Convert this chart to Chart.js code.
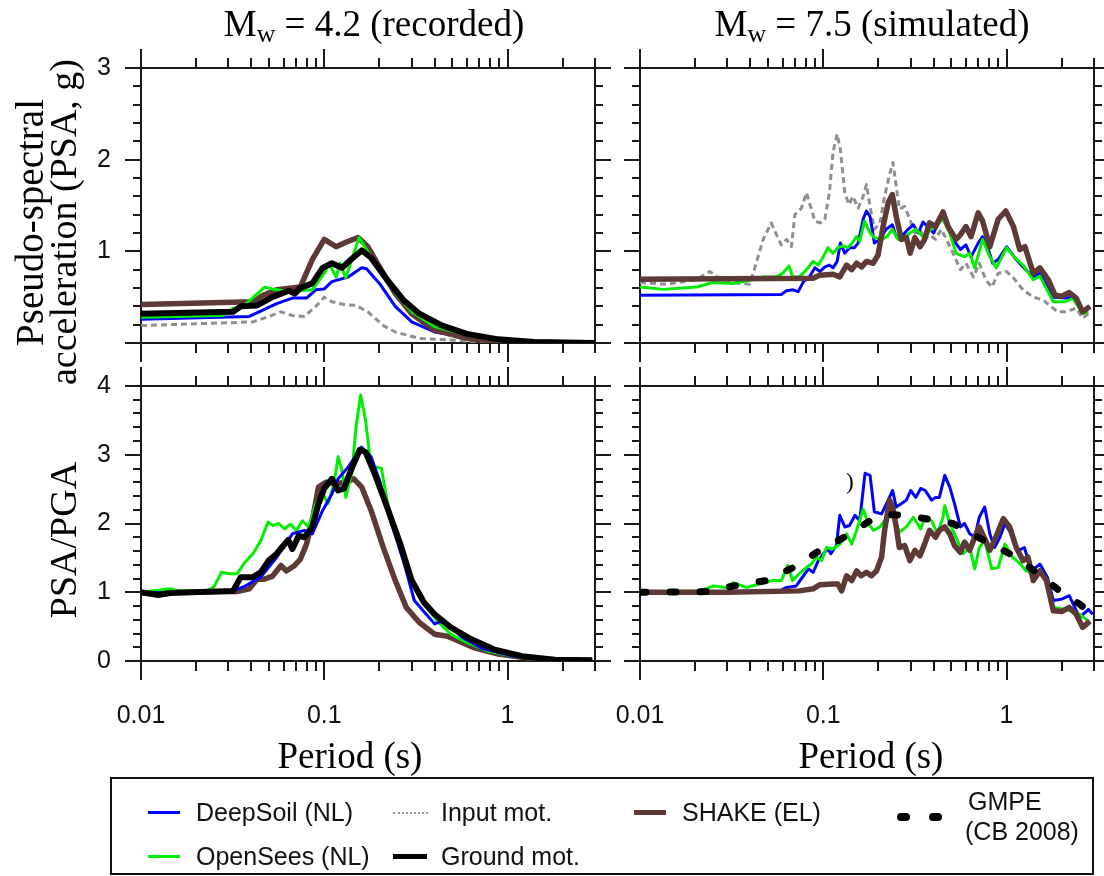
<!DOCTYPE html>
<html>
<head>
<meta charset="utf-8">
<script src="https://cdn.jsdelivr.net/npm/chart.js@4.4.0/dist/chart.umd.min.js"></script>
<style>
  body { margin: 0; background: #fff; }
  #fig { position: relative; width: 1104px; height: 876px; overflow: hidden; background: #fff; }
  #fig canvas { position: absolute; }
  .serif { position: absolute; font-family: 'Liberation Serif', 'Times New Roman', serif; color: #000; line-height: 1; white-space: nowrap; }
  .sans { position: absolute; font-family: 'Liberation Sans', Arial, sans-serif; font-size: 25px; line-height: 25px; white-space: nowrap; color: #111; }
  .sub { font-size: 0.7em; position: relative; top: 0.25em; }
  .rot { transform: rotate(-90deg); text-align: center; }
  .swatch { position: absolute; }
</style>
</head>
<body>
<div id="fig">
  <canvas id="tl" width="579" height="335" style="left:41px;top:38px"></canvas>
  <canvas id="tr" width="564" height="335" style="left:540px;top:38px"></canvas>
  <canvas id="bl" width="579" height="385" style="left:41px;top:356px"></canvas>
  <canvas id="br" width="564" height="385" style="left:540px;top:356px"></canvas>

  <div class="serif" style="left:124px;top:5px;width:500px;text-align:center;font-size:37px">M<span class="sub">w</span> = 4.2 (recorded)</div>
  <div class="serif" style="left:622px;top:5px;width:500px;text-align:center;font-size:37px">M<span class="sub">w</span> = 7.5 (simulated)</div>

  <div class="serif rot" style="left:-171px;top:203px;width:400px;font-size:39px">Pseudo-spectral</div>
  <div class="serif rot" style="left:-137px;top:203px;width:400px;font-size:38px">acceleration (PSA, g)</div>
  <div class="serif rot" style="left:-137px;top:521px;width:400px;font-size:38px">PSA/PGA</div>

  <div class="serif" style="left:100px;top:737px;width:500px;text-align:center;font-size:37px">Period (s)</div>
  <div class="serif" style="left:621px;top:737px;width:500px;text-align:center;font-size:37px">Period (s)</div>

  <div class="serif" style="left:846px;top:470px;font-size:23px">)</div>

  <!-- legend -->
  <div style="position:absolute;left:110px;top:777px;width:980px;height:94px;border:2px solid #111"></div>
  <div class="swatch" style="left:148px;top:811px;width:32px;height:3px;background:#0000ff"></div>
  <div class="sans" style="left:196px;top:800px">DeepSoil (NL)</div>
  <div class="swatch" style="left:393px;top:812px;width:35px;height:0;border-top:2px dotted #999"></div>
  <div class="sans" style="left:441px;top:800px">Input mot.</div>
  <div class="swatch" style="left:634px;top:810px;width:32px;height:5px;background:#5e3a36"></div>
  <div class="sans" style="left:682px;top:800px">SHAKE (EL)</div>
  <div class="swatch" style="left:897px;top:813px;width:13px;height:8px;border-radius:4px;background:#000"></div>
  <div class="swatch" style="left:929px;top:813px;width:13px;height:8px;border-radius:4px;background:#000"></div>
  <div class="sans" style="left:968px;top:789px">GMPE</div>
  <div class="sans" style="left:965px;top:819px">(CB 2008)</div>
  <div class="swatch" style="left:148px;top:855px;width:32px;height:3px;background:#00ee00"></div>
  <div class="sans" style="left:196px;top:844px">OpenSees (NL)</div>
  <div class="swatch" style="left:393px;top:854px;width:34px;height:5px;background:#000"></div>
  <div class="sans" style="left:441px;top:844px">Ground mot.</div>
</div>

<script>
// tick labels
const xLabelTicks = [0.01, 0.1, 1];
const topYTicks = [1, 2, 3];
const bottomYTicks = [0, 1, 2, 3, 4];

// [period (s), value] pairs, Mw 4.2 PSA (g)
const tlDeepSoil = [[0.01,0.26],[0.039,0.29],[0.055,0.43],[0.067,0.49],[0.08,0.49],[0.09,0.58],[0.1,0.59],[0.11,0.67],[0.135,0.72],[0.16,0.82],[0.17,0.81],[0.2,0.65],[0.244,0.40],[0.3,0.23],[0.4,0.12],[0.66,0.05],[1.0,0.01],[3,0]];
const tlOpenSees = [[0.01,0.28],[0.028,0.30],[0.0318,0.38],[0.036,0.40],[0.0474,0.61],[0.052,0.59],[0.064,0.56],[0.086,0.58],[0.1,0.76],[0.106,0.87],[0.116,0.72],[0.122,0.87],[0.131,0.71],[0.145,0.98],[0.155,1.15],[0.175,0.98],[0.2,0.80],[0.25,0.52],[0.3,0.34],[0.4,0.18],[0.6,0.09],[1,0.02],[3,0]];
const tlInput = [[0.01,0.19],[0.0408,0.23],[0.05,0.29],[0.058,0.34],[0.067,0.30],[0.078,0.29],[0.09,0.40],[0.1,0.50],[0.11,0.45],[0.128,0.42],[0.149,0.41],[0.173,0.34],[0.21,0.19],[0.244,0.12],[0.33,0.05],[0.52,0.03],[0.85,0.0],[3,0]];
const tlGround = [[0.01,0.32],[0.0318,0.34],[0.035,0.40],[0.043,0.41],[0.052,0.50],[0.064,0.57],[0.069,0.54],[0.074,0.60],[0.086,0.65],[0.098,0.82],[0.11,0.87],[0.125,0.82],[0.14,0.91],[0.16,1.01],[0.18,0.93],[0.22,0.69],[0.27,0.47],[0.33,0.32],[0.44,0.19],[0.6,0.10],[0.89,0.04],[1.4,0.01],[3,0]];
const tlShake = [[0.01,0.42],[0.0408,0.45],[0.0463,0.52],[0.055,0.58],[0.074,0.61],[0.086,0.91],[0.1,1.13],[0.116,1.05],[0.135,1.11],[0.153,1.15],[0.173,1.05],[0.2,0.83],[0.244,0.54],[0.3,0.32],[0.4,0.14],[0.6,0.05],[0.98,0.01],[3,0]];

// Mw 7.5 PSA (g)
const trDeepSoil = [[0.01,0.52],[0.0592,0.53],[0.063,0.57],[0.0685,0.58],[0.073,0.56],[0.078,0.67],[0.084,0.72],[0.09,0.82],[0.096,0.78],[0.102,0.83],[0.108,0.85],[0.113,0.82],[0.119,0.89],[0.124,1.09],[0.131,0.98],[0.139,1.04],[0.148,1.04],[0.155,1.09],[0.165,1.35],[0.172,1.44],[0.18,1.38],[0.19,1.09],[0.204,1.13],[0.22,1.24],[0.238,1.29],[0.25,1.16],[0.273,1.18],[0.29,1.24],[0.31,1.29],[0.33,1.20],[0.35,1.32],[0.37,1.27],[0.40,1.20],[0.43,1.33],[0.47,1.35],[0.51,1.13],[0.56,1.02],[0.60,1.07],[0.64,0.94],[0.70,1.09],[0.74,1.16],[0.79,1.04],[0.84,0.87],[0.90,0.91],[1.0,1.05],[1.13,0.91],[1.23,0.83],[1.4,0.72],[1.52,0.76],[1.8,0.50],[2.1,0.49],[2.3,0.50],[2.6,0.34],[2.85,0.40]];
const trOpenSees = [[0.01,0.61],[0.0134,0.585],[0.0203,0.61],[0.025,0.66],[0.032,0.65],[0.041,0.69],[0.047,0.72],[0.055,0.72],[0.06,0.76],[0.065,0.84],[0.068,0.72],[0.074,0.72],[0.081,0.80],[0.088,0.89],[0.094,0.85],[0.1,0.94],[0.106,1.04],[0.113,0.98],[0.12,1.04],[0.128,1.06],[0.136,1.04],[0.145,1.10],[0.152,1.16],[0.158,1.11],[0.168,1.33],[0.18,1.20],[0.19,1.15],[0.208,1.13],[0.223,1.16],[0.238,1.24],[0.256,1.13],[0.278,1.15],[0.297,1.20],[0.32,1.24],[0.35,1.16],[0.37,1.20],[0.40,1.27],[0.45,1.35],[0.49,1.20],[0.53,0.98],[0.59,0.94],[0.63,0.98],[0.67,0.82],[0.74,1.13],[0.81,0.94],[0.88,0.82],[1.0,1.04],[1.11,0.93],[1.23,0.85],[1.4,0.69],[1.52,0.73],[1.8,0.45],[2.1,0.45],[2.3,0.49],[2.6,0.32],[2.8,0.34]];
const trInput = [[0.01,0.66],[0.0139,0.64],[0.0203,0.69],[0.024,0.78],[0.0266,0.72],[0.03,0.67],[0.035,0.65],[0.0397,0.64],[0.042,0.80],[0.047,1.13],[0.052,1.31],[0.055,1.20],[0.059,1.07],[0.063,1.13],[0.067,1.05],[0.07,1.40],[0.076,1.47],[0.081,1.64],[0.084,1.53],[0.09,1.33],[0.096,1.31],[0.102,1.35],[0.108,1.64],[0.113,2.08],[0.119,2.28],[0.124,2.11],[0.131,1.64],[0.138,1.51],[0.145,1.60],[0.155,1.47],[0.165,1.60],[0.172,1.73],[0.18,1.49],[0.19,1.24],[0.204,1.31],[0.216,1.60],[0.23,1.84],[0.24,1.97],[0.25,1.71],[0.26,1.46],[0.278,1.49],[0.297,1.35],[0.316,1.20],[0.337,1.24],[0.357,1.13],[0.38,1.18],[0.41,1.13],[0.44,1.24],[0.47,1.13],[0.51,0.98],[0.56,0.80],[0.60,0.87],[0.66,0.72],[0.71,0.87],[0.77,0.69],[0.83,0.61],[0.90,0.76],[1.0,0.78],[1.09,0.71],[1.23,0.58],[1.40,0.50],[1.58,0.47],[1.9,0.34],[2.1,0.34],[2.4,0.38],[2.6,0.27],[2.8,0.32]];
const trShake = [[0.01,0.695],[0.088,0.706],[0.0954,0.74],[0.113,0.75],[0.123,0.72],[0.134,0.85],[0.143,0.80],[0.152,0.87],[0.162,0.83],[0.172,0.89],[0.187,0.87],[0.199,0.96],[0.212,1.27],[0.226,1.53],[0.238,1.62],[0.25,1.38],[0.267,1.13],[0.284,1.15],[0.298,0.98],[0.316,1.15],[0.337,1.05],[0.357,1.13],[0.38,1.31],[0.41,1.27],[0.45,1.43],[0.48,1.27],[0.53,1.13],[0.56,1.18],[0.60,1.27],[0.64,1.16],[0.70,1.42],[0.74,1.33],[0.81,1.05],[0.90,1.35],[0.99,1.44],[1.09,1.27],[1.18,1.02],[1.26,1.05],[1.40,0.76],[1.52,0.82],[1.69,0.69],[1.84,0.52],[2.0,0.51],[2.2,0.55],[2.4,0.49],[2.6,0.34],[2.85,0.40]];

// Mw 4.2 PSA/PGA
const blDeepSoil = [[0.01,0.99],[0.0318,1.02],[0.037,1.09],[0.045,1.22],[0.055,1.51],[0.067,1.85],[0.078,1.90],[0.086,1.85],[0.098,2.19],[0.11,2.43],[0.119,2.65],[0.135,2.82],[0.16,3.11],[0.18,2.97],[0.2,2.63],[0.23,2.04],[0.27,1.46],[0.31,0.88],[0.36,0.68],[0.40,0.54],[0.44,0.58],[0.49,0.49],[0.57,0.34],[0.73,0.18],[1.08,0.07],[1.8,0.015],[2.9,0.005]];
const blOpenSees = [[0.01,1.0],[0.0124,1.03],[0.0144,1.05],[0.016,1.02],[0.0225,1.02],[0.0249,1.07],[0.0275,1.29],[0.0303,1.27],[0.0335,1.27],[0.037,1.44],[0.0408,1.56],[0.045,1.75],[0.0494,2.02],[0.0525,1.97],[0.0564,2.00],[0.0607,1.92],[0.0653,1.99],[0.0705,1.90],[0.076,2.04],[0.082,1.95],[0.09,2.29],[0.098,2.43],[0.105,2.29],[0.113,2.58],[0.119,2.97],[0.125,2.77],[0.131,2.38],[0.142,2.77],[0.149,3.41],[0.158,3.87],[0.168,3.50],[0.18,2.82],[0.195,2.82],[0.205,2.80],[0.22,2.34],[0.244,1.85],[0.27,1.46],[0.30,1.14],[0.34,0.92],[0.37,0.75],[0.42,0.56],[0.49,0.39],[0.60,0.27],[0.77,0.15],[1.08,0.07],[1.8,0.02],[2.9,0.01]];
const blGround = [[0.01,1.0],[0.0124,0.96],[0.0144,0.99],[0.0318,1.02],[0.035,1.22],[0.0408,1.22],[0.045,1.29],[0.0497,1.46],[0.055,1.56],[0.0607,1.70],[0.0636,1.76],[0.067,1.63],[0.0725,1.82],[0.078,1.80],[0.086,1.95],[0.093,2.29],[0.1,2.51],[0.11,2.65],[0.119,2.48],[0.128,2.51],[0.142,2.82],[0.156,3.07],[0.168,3.04],[0.19,2.70],[0.22,2.24],[0.26,1.70],[0.30,1.17],[0.35,0.85],[0.40,0.68],[0.49,0.49],[0.63,0.32],[0.84,0.17],[1.2,0.07],[1.8,0.02],[2.9,0.01]];
const blShake = [[0.01,0.99],[0.0334,1.01],[0.039,1.05],[0.043,1.19],[0.047,1.19],[0.052,1.23],[0.058,1.39],[0.062,1.31],[0.069,1.39],[0.074,1.48],[0.08,1.70],[0.086,2.04],[0.093,2.53],[0.102,2.60],[0.116,2.58],[0.131,2.60],[0.145,2.65],[0.16,2.53],[0.18,2.19],[0.21,1.65],[0.244,1.17],[0.28,0.78],[0.33,0.56],[0.40,0.39],[0.47,0.36],[0.54,0.29],[0.66,0.19],[0.89,0.10],[1.4,0.03],[2.3,0.01]];

// Mw 7.5 PSA/PGA
const brDeepSoil = [[0.01,1.0],[0.058,1.02],[0.063,1.07],[0.071,1.09],[0.078,1.24],[0.083,1.34],[0.088,1.29],[0.094,1.46],[0.1,1.56],[0.106,1.63],[0.11,1.56],[0.118,1.68],[0.123,2.12],[0.131,1.95],[0.139,1.97],[0.149,2.12],[0.158,2.04],[0.169,2.73],[0.18,2.70],[0.19,2.17],[0.208,2.14],[0.226,2.34],[0.239,2.48],[0.25,2.24],[0.267,2.29],[0.284,2.34],[0.30,2.48],[0.32,2.38],[0.34,2.51],[0.36,2.48],[0.39,2.34],[0.41,2.38],[0.43,2.38],[0.46,2.70],[0.49,2.53],[0.52,2.29],[0.56,1.95],[0.59,2.00],[0.63,1.85],[0.67,1.80],[0.71,2.09],[0.76,2.24],[0.81,1.85],[0.86,1.65],[0.92,1.80],[0.98,2.00],[1.06,1.85],[1.16,1.61],[1.25,1.65],[1.37,1.31],[1.52,1.41],[1.67,1.22],[1.80,0.88],[2.0,0.90],[2.2,0.95],[2.5,0.63],[2.8,0.75],[2.95,0.68]];
const brOpenSees = [[0.01,1.0],[0.0212,1.02],[0.025,1.09],[0.0296,1.07],[0.0322,1.14],[0.038,1.07],[0.045,1.12],[0.053,1.17],[0.059,1.17],[0.064,1.39],[0.068,1.17],[0.074,1.27],[0.081,1.36],[0.086,1.41],[0.092,1.51],[0.098,1.46],[0.104,1.65],[0.113,1.63],[0.123,1.70],[0.134,1.85],[0.143,1.70],[0.152,1.90],[0.165,2.21],[0.176,2.00],[0.188,1.90],[0.204,1.95],[0.22,2.07],[0.24,2.14],[0.26,1.87],[0.284,1.95],[0.31,2.09],[0.34,1.92],[0.36,2.09],[0.39,2.04],[0.42,1.85],[0.45,2.09],[0.46,2.26],[0.49,2.00],[0.54,1.75],[0.58,1.56],[0.63,1.65],[0.67,1.34],[0.71,1.65],[0.76,1.75],[0.83,1.34],[0.90,1.36],[0.98,1.70],[1.08,1.51],[1.19,1.41],[1.28,1.31],[1.40,1.27],[1.52,1.31],[1.67,1.12],[1.80,0.78],[2.1,0.75],[2.5,0.68],[2.8,0.58]];
const brShake = [[0.01,1.0],[0.03,1.0],[0.074,1.02],[0.088,1.05],[0.096,1.11],[0.113,1.12],[0.12,1.12],[0.126,1.02],[0.134,1.24],[0.143,1.17],[0.152,1.31],[0.161,1.24],[0.172,1.29],[0.183,1.24],[0.195,1.31],[0.208,1.51],[0.216,1.90],[0.23,2.34],[0.239,2.24],[0.25,1.95],[0.26,1.65],[0.278,1.68],[0.297,1.46],[0.316,1.61],[0.337,1.53],[0.357,1.70],[0.38,1.90],[0.41,1.80],[0.43,1.90],[0.46,1.95],[0.49,1.85],[0.52,1.68],[0.56,1.58],[0.59,1.73],[0.63,1.61],[0.67,1.80],[0.71,1.95],[0.76,1.78],[0.81,1.61],[0.88,1.82],[0.96,2.07],[1.04,1.95],[1.13,1.65],[1.23,1.46],[1.31,1.51],[1.40,1.17],[1.52,1.31],[1.65,1.17],[1.80,0.73],[2.0,0.72],[2.2,0.78],[2.4,0.68],[2.6,0.49],[2.85,0.58]];
const brGmpe = [[0.01,1.0],[0.023,1.01],[0.035,1.11],[0.049,1.17],[0.0685,1.36],[0.096,1.61],[0.134,1.82],[0.18,2.04],[0.22,2.13],[0.28,2.12],[0.40,2.05],[0.51,2.00],[0.60,1.90],[0.78,1.73],[1.04,1.56],[1.34,1.36],[1.66,1.17],[2.1,0.95],[2.5,0.83],[3.0,0.66]];

const BLUE = '#0000ff', GREEN = '#00ee00', GRAY = '#8f8f8f', BROWN = '#5e3a36', BLACK = '#000000';

function pts(pairs) {
  return pairs.map(p => ({x: p[0], y: p[1]}));
}

function line(pairs, color, width, order, dash) {
  return {
    data: pts(pairs),
    borderColor: color,
    borderWidth: width,
    borderDash: dash || [],
    order: order
  };
}

// frame box with outward log/linear tick marks on all four sides
const frameTicks = {
  id: 'frameTicks',
  beforeDatasetsDraw(chart) {
    const {ctx, chartArea: a, scales: {x, y}} = chart;
    ctx.save();
    ctx.strokeStyle = '#1a1a1a';
    ctx.lineWidth = 2;
    ctx.strokeRect(a.left, a.top, a.right - a.left, a.bottom - a.top);
    ctx.beginPath();
    [0.01, 0.1, 1].forEach(d => {
      for (let k = 1; k <= 9; k++) {
        const v = d * k;
        if (v > x.max * 1.0001) break;
        const px = Math.round(x.getPixelForValue(v));
        const len = k === 1 ? 19 : 10;
        ctx.moveTo(px, a.top - len); ctx.lineTo(px, a.top);
        ctx.moveTo(px, a.bottom); ctx.lineTo(px, a.bottom + len);
      }
    });
    for (let i = 0; i <= Math.round(y.max * 5); i++) {
      const py = Math.round(y.getPixelForValue(i / 5));
      const len = i % 5 === 0 ? 16 : 8;
      ctx.moveTo(a.left - len, py); ctx.lineTo(a.left, py);
      ctx.moveTo(a.right, py); ctx.lineTo(a.right + len, py);
    }
    ctx.stroke();
    ctx.restore();
  }
};

Chart.defaults.font.family = "'Liberation Sans', Arial, sans-serif";
Chart.defaults.color = '#111';

// canvas-relative layout: y axis box 44px wide after a 56px left margin
function panel(id, datasets, o) {
  return new Chart(document.getElementById(id), {
    type: 'line',
    data: {datasets: datasets},
    options: {
      responsive: false,
      animation: false,
      events: [],
      layout: {autoPadding: false, padding: {top: 30, right: o.padRight, left: 56, bottom: 0}},
      plugins: {legend: {display: false}, tooltip: {enabled: false}},
      elements: {point: {radius: 0}, line: {tension: 0, borderJoinStyle: 'round'}},
      scales: {
        x: {
          type: 'logarithmic', min: 0.01, max: 3,
          grid: {display: false}, border: {display: false},
          afterBuildTicks: s => { s.ticks = xLabelTicks.map(v => ({value: v})); },
          afterFit: s => { s.height = o.xHeight; },
          ticks: {display: o.showX, padding: 45, autoSkip: false, maxRotation: 0,
                  font: {size: 25, lineHeight: 0.2}, callback: v => String(v)}
        },
        y: {
          min: 0, max: o.yMax,
          grid: {display: false}, border: {display: false},
          afterBuildTicks: s => { s.ticks = o.yTicks.map(v => ({value: v})); },
          afterFit: s => { s.width = 44; },
          ticks: {display: o.showY, crossAlign: 'far', font: {size: 25, lineHeight: 0.2},
                  callback: v => String(v)}
        }
      }
    },
    plugins: [frameTicks]
  });
}

panel('tl', [
  line(tlGround, BLACK, 6, 0),
  line(tlOpenSees, GREEN, 3, 1),
  line(tlShake, BROWN, 5.5, 2),
  line(tlDeepSoil, BLUE, 3, 3),
  line(tlInput, GRAY, 3, 4, [6, 4])
], {yMax: 3, yTicks: topYTicks, showX: false, showY: true, xHeight: 30, padRight: 25});

panel('tr', [
  line(trShake, BROWN, 5.5, 0),
  line(trOpenSees, GREEN, 3, 1),
  line(trDeepSoil, BLUE, 3, 2),
  line(trInput, GRAY, 3, 3, [6, 4])
], {yMax: 3, yTicks: topYTicks, showX: false, showY: false, xHeight: 30, padRight: 10});

panel('bl', [
  line(blGround, BLACK, 6, 0),
  line(blDeepSoil, BLUE, 3, 1),
  line(blOpenSees, GREEN, 3, 2),
  line(blShake, BROWN, 5.5, 3)
], {yMax: 4, yTicks: bottomYTicks, showX: true, showY: true, xHeight: 80, padRight: 25});

const gmpe = line(brGmpe, BLACK, 7, 0, [6, 24]);
gmpe.borderCapStyle = 'round';
panel('br', [
  gmpe,
  line(brShake, BROWN, 5.5, 1),
  line(brOpenSees, GREEN, 3, 2),
  line(brDeepSoil, BLUE, 3, 3)
], {yMax: 4, yTicks: bottomYTicks, showX: true, showY: false, xHeight: 80, padRight: 10});
</script>
</body>
</html>
